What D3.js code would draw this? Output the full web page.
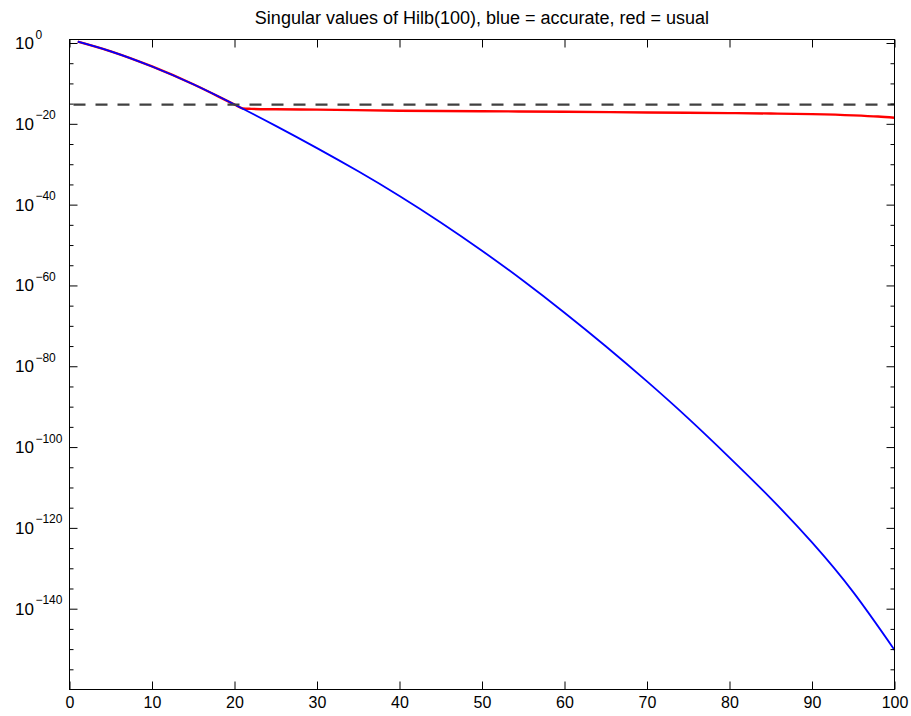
<!DOCTYPE html>
<html>
<head>
<meta charset="utf-8">
<script src="https://cdn.jsdelivr.net/npm/d3@7"></script>
<style>
  body { margin: 0; background: #fff; }
  svg { display: block; font-family: "Liberation Sans", Arial, sans-serif; }
</style>
</head>
<body>
<div class="graph"></div>
<script>
// singular values, stored as log10 exponents
let sampleX = [1, 5, 10, 15, 20, 25, 30, 35, 40, 45, 50, 55, 60, 65, 70, 75, 80, 85, 90, 95, 100];
let accurateExp = [0.34, -2.06, -5.81, -10.21, -15.21, -20.51, -26.01, -31.76, -37.86, -44.41, -51.41,
  -58.86, -66.76, -75.06, -83.76, -92.91, -102.61, -112.7, -123.6, -135.9, -150.2];

let usualX = [1, 5, 10, 15, 20, 21, 22, 25, 30, 40, 50, 60, 70, 80, 85, 90, 95, 98, 100];
let usualExp = [0.34, -2.06, -5.81, -10.21, -15.21, -16.2, -16.3, -16.4, -16.5, -16.75, -16.9, -17.0,
  -17.2, -17.35, -17.45, -17.6, -17.9, -18.2, -18.5];

let epsExp = -15.25;

let xTicks = [0, 10, 20, 30, 40, 50, 60, 70, 80, 90, 100];
let yMajorExp = [0, -20, -40, -60, -80, -100, -120, -140];
let yMinorExp = d3.range(-155, 0, 5).filter(function (e) { return e % 20 !== 0; });

let titleText = "Singular values of Hilb(100), blue = accurate, red = usual";

let W = 911, H = 716;
let pLeft = 69.5, pRight = 894.5, pTop = 39.5, pBottom = 689.5;

let svg = d3.select(".graph").append("svg").attr("width", W).attr("height", H);

let x = d3.scaleLinear().domain([0, 100]).range([pLeft, pRight]);
let y = d3.scaleLog().domain([1e-160, 1]).range([pBottom, 43]);

function makeLine(curve) {
  return d3.line()
    .x(function (d) { return x(d[0]); })
    .y(function (d) { return y(Math.pow(10, d[1])); })
    .curve(curve);
}

let usual = usualX.map(function (v, i) { return [v, usualExp[i]]; });
let accurate = sampleX.map(function (v, i) { return [v, accurateExp[i]]; });

svg.append("path").datum(usual)
  .attr("d", makeLine(d3.curveMonotoneX)).attr("fill", "none")
  .attr("stroke", "#ff0000").attr("stroke-width", 2.4);

svg.append("path").datum(accurate)
  .attr("d", makeLine(d3.curveNatural)).attr("fill", "none")
  .attr("stroke", "#0000ff").attr("stroke-width", 1.8);

svg.append("line")
  .attr("x1", x(0)).attr("x2", x(100))
  .attr("y1", y(Math.pow(10, epsExp))).attr("y2", y(Math.pow(10, epsExp)))
  .attr("stroke", "#404040").attr("stroke-width", 2.4)
  .attr("stroke-dasharray", "12,10").attr("stroke-dashoffset", 18);

// axes, ticks inside on all four sides
let xBottom = d3.axisBottom(x).tickValues(xTicks).tickSize(-8).tickPadding(7);
let xTop = d3.axisTop(x).tickValues(xTicks).tickSize(-8).tickFormat("");
let majorVals = yMajorExp.map(function (e) { return Math.pow(10, e); });
let minorVals = yMinorExp.map(function (e) { return Math.pow(10, e); });

svg.append("g").attr("transform", "translate(0," + pBottom + ")").call(xBottom);
svg.append("g").attr("transform", "translate(0," + pTop + ")").call(xTop);
svg.append("g").attr("transform", "translate(" + pLeft + ",0)")
  .call(d3.axisLeft(y).tickValues(majorVals).tickSize(-8).tickFormat(""));
svg.append("g").attr("transform", "translate(" + pLeft + ",0)")
  .call(d3.axisLeft(y).tickValues(minorVals).tickSize(-4).tickFormat(""));
svg.append("g").attr("transform", "translate(" + pRight + ",0)")
  .call(d3.axisRight(y).tickValues(majorVals).tickSize(-8).tickFormat(""));
svg.append("g").attr("transform", "translate(" + pRight + ",0)")
  .call(d3.axisRight(y).tickValues(minorVals).tickSize(-4).tickFormat(""));

svg.selectAll(".domain").remove();
svg.selectAll(".tick line").attr("stroke", "#000");
svg.selectAll(".tick text").attr("font-size", 16).attr("font-family", "Liberation Sans, Arial, sans-serif")
  .attr("fill", "#000");

svg.append("rect")
  .attr("x", pLeft).attr("y", pTop)
  .attr("width", pRight - pLeft).attr("height", pBottom - pTop)
  .attr("fill", "none").attr("stroke", "#000").attr("stroke-width", 1);

// y labels as 10 with superscript exponent
let ylab = svg.selectAll(".ylab").data(yMajorExp).enter().append("text")
  .attr("class", "ylab")
  .attr("x", 15)
  .attr("y", function (e) { return y(Math.pow(10, e)) + 6; })
  .attr("font-size", 17);
ylab.append("tspan").text("10");
ylab.append("tspan")
  .attr("dx", 1.5).attr("dy", -10.5).attr("font-size", 12)
  .text(function (e) { return e === 0 ? "0" : "\u2212" + Math.abs(e); });

svg.append("text")
  .attr("x", (pLeft + pRight) / 2).attr("y", 24)
  .attr("text-anchor", "middle").attr("font-size", 18)
  .text(titleText);
</script>
</body>
</html>
